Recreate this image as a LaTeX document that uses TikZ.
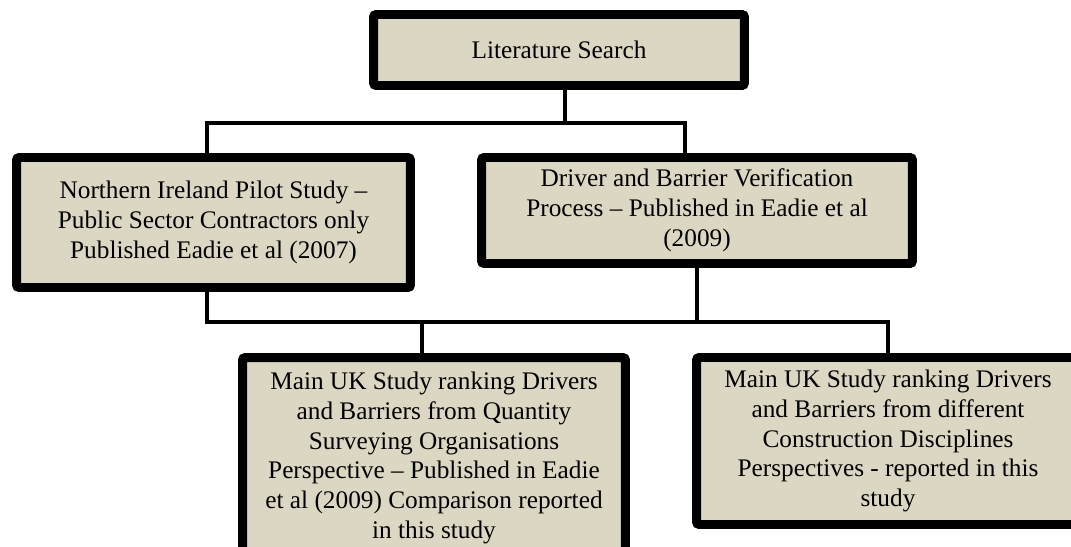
\documentclass[tikz,border=0pt]{standalone}
\usepackage{fontspec}
\setmainfont{Liberation Serif}
\definecolor{boxfill}{RGB}{219,215,194}
\tikzset{
  stagebox/.style={draw=black, fill=boxfill, line width=5.1pt, rounded corners=1.5pt,
    inner sep=0pt, align=center, font=\fontsize{14.4}{17}\selectfont},
  link/.style={draw=black, line width=1.8pt}
}
\begin{document}
\begin{tikzpicture}[x=0.02cm,y=-0.02cm]
\useasboundingbox (0,0) rectangle (1071,547);
\begin{scope}
\clip (0,0) rectangle (1071,547);
% stages
\node[stagebox, minimum width=7.42cm, minimum height=1.42cm] (lit) at (559,50) {Literature Search};
\node[stagebox, minimum width=7.88cm, minimum height=2.6cm] (pilot) at (213.5,222.5)
  {Northern Ireland Pilot Study --\\ Public Sector Contractors only\\ Published Eadie et al (2007)};
\node[stagebox, minimum width=8.62cm, minimum height=2.12cm] (verify) at (697,210.5)
  {Driver and Barrier Verification\\ Process -- Published in Eadie et al\\ (2009)};
\node[stagebox, minimum width=7.66cm, minimum height=4.02cm] (qs) at (434,458)
  {Main UK Study ranking Drivers\\ and Barriers from Quantity\\ Surveying Organisations\\
   Perspective -- Published in Eadie\\ et al (2009) Comparison reported\\ in this study};
\node[stagebox, minimum width=7.66cm, minimum height=3.34cm] (disc) at (888,441)
  {Main UK Study ranking Drivers\\ and Barriers from different\\ Construction Disciplines\\
   Perspectives - reported in this\\ study};
% bus lines
\coordinate (topbus) at (0,123);
\coordinate (midbus) at (0,322);
\draw[link] ([xshift=0.12cm]lit.south) -- ([xshift=0.12cm]lit.south |- topbus)
  -| ([xshift=-0.13cm]pilot.north);
\draw[link] ([xshift=0.12cm]lit.south |- topbus) -| ([xshift=-0.24cm]verify.north);
\draw[link] ([xshift=-0.13cm]pilot.south) -- ([xshift=-0.13cm]pilot.south |- midbus)
  -| ([xshift=-0.24cm]qs.north);
\draw[link] (verify.south) -- (verify.south |- midbus) -| ([xshift=-0.24cm]qs.north);
\draw[link] (verify.south |- midbus) -| (disc.north);
\end{scope}
\end{tikzpicture}
\end{document}
